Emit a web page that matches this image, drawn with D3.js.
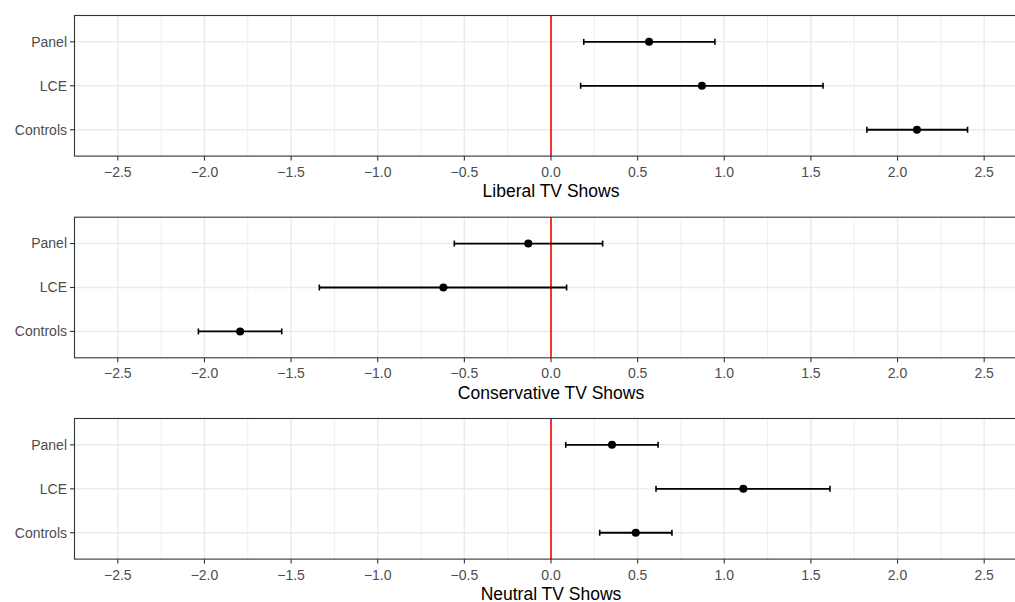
<!DOCTYPE html>
<html>
<head>
<meta charset="utf-8">
<script src="https://cdn.jsdelivr.net/npm/d3@7"></script>
<style>
  body { margin: 0; background: #fff; }
  text { font-family: "Liberation Sans", Arial, sans-serif; }
</style>
</head>
<body>
<div id="chart"></div>
<script>
// data
var panels = ["Liberal TV Shows", "Conservative TV Shows", "Neutral TV Shows"];
var models = ["Panel", "LCE", "Controls"];
var estimates = [
  [0.566, 0.871, 2.112],
  [-0.131, -0.621, -1.794],
  [0.352, 1.110, 0.489]
];
var lower = [
  [0.189, 0.171, 1.823],
  [-0.558, -1.337, -2.035],
  [0.085, 0.606, 0.281]
];
var upper = [
  [0.946, 1.570, 2.404],
  [0.298, 0.090, -1.554],
  [0.618, 1.610, 0.698]
];
var xTicks = [-2.5, -2.0, -1.5, -1.0, -0.5, 0.0, 0.5, 1.0, 1.5, 2.0, 2.5];
var xMinor = [-2.25, -1.75, -1.25, -0.75, -0.25, 0.25, 0.75, 1.25, 1.75, 2.25];

const W = 1015, H = 602;
// the plot runs past the right edge of the picture, so the right border is clipped
const left = 74.5, right = 1027.5;
const panelTops = [15.5, 217.2, 418.5];
const panelH = 140.6;

var svg = d3.select("#chart").append("svg")
  .attr("width", W).attr("height", H)
  .style("overflow", "hidden");

var x = d3.scaleLinear().domain([-2.75, 2.75]).range([left, right]);
// discrete scale with ggplot-like expansion (0.6 units each side)
var yPos = d3.scaleLinear().domain([3.6, 0.4]).range([0, panelH]);
var yIdx = { "Controls": 1, "LCE": 2, "Panel": 3 };

panels.forEach(function (title, p) {
  var g = svg.append("g").attr("transform", `translate(0,${panelTops[p]})`);

  // minor grid
  g.selectAll(".minor").data(xMinor).enter().append("line")
    .attr("x1", d => x(d)).attr("x2", d => x(d))
    .attr("y1", 0).attr("y2", panelH)
    .attr("stroke", "#EBEBEB").attr("stroke-width", 0.8);

  // major grid
  g.selectAll(".major").data(xTicks).enter().append("line")
    .attr("x1", d => x(d)).attr("x2", d => x(d))
    .attr("y1", 0).attr("y2", panelH)
    .attr("stroke", "#EBEBEB").attr("stroke-width", 1.5);

  g.selectAll(".hgrid").data(models).enter().append("line")
    .attr("x1", left).attr("x2", right)
    .attr("y1", d => yPos(yIdx[d])).attr("y2", d => yPos(yIdx[d]))
    .attr("stroke", "#EBEBEB").attr("stroke-width", 1.5);

  // zero line
  g.append("line")
    .attr("x1", x(0)).attr("x2", x(0))
    .attr("y1", 0).attr("y2", panelH)
    .attr("stroke", "#FF0000").attr("stroke-width", 1.6);

  // error bars
  models.forEach(function (m, i) {
    var yy = yPos(yIdx[m]);
    g.append("line")
      .attr("x1", x(lower[p][i])).attr("x2", x(upper[p][i]))
      .attr("y1", yy).attr("y2", yy)
      .attr("stroke", "#000").attr("stroke-width", 1.8);
    [lower[p][i], upper[p][i]].forEach(function (v) {
      g.append("line")
        .attr("x1", x(v)).attr("x2", x(v))
        .attr("y1", yy - 3).attr("y2", yy + 3)
        .attr("stroke", "#000").attr("stroke-width", 1.6);
    });
    g.append("circle")
      .attr("cx", x(estimates[p][i])).attr("cy", yy)
      .attr("r", 4).attr("fill", "#000");
  });

  // panel border
  g.append("rect")
    .attr("x", left).attr("y", 0)
    .attr("width", right - left).attr("height", panelH)
    .attr("fill", "none").attr("stroke", "#333333").attr("stroke-width", 1.1);

  // y axis
  models.forEach(function (m) {
    var yy = yPos(yIdx[m]);
    g.append("line")
      .attr("x1", left - 4.5).attr("x2", left)
      .attr("y1", yy).attr("y2", yy)
      .attr("stroke", "#333333").attr("stroke-width", 1.1);
    g.append("text")
      .attr("x", left - 7.5).attr("y", yy)
      .attr("dy", "0.35em")
      .attr("text-anchor", "end")
      .style("font-size", "14px")
      .attr("fill", "#4D4D4D")
      .text(m);
  });

  // x axis
  xTicks.forEach(function (t) {
    g.append("line")
      .attr("x1", x(t)).attr("x2", x(t))
      .attr("y1", panelH).attr("y2", panelH + 4.5)
      .attr("stroke", "#333333").attr("stroke-width", 1.1);
    g.append("text")
      .attr("x", x(t)).attr("y", panelH + 20.4)
      .attr("text-anchor", "middle")
      .style("font-size", "14px")
      .attr("fill", "#4D4D4D")
      .text(d3.format(".1f")(t).replace("-", "\u2212"));
  });

  g.append("text")
    .attr("x", (left + right) / 2).attr("y", panelH + 40.8)
    .attr("text-anchor", "middle")
    .style("font-size", "17.5px")
    .attr("fill", "#000")
    .text(title);
});
</script>
</body>
</html>
